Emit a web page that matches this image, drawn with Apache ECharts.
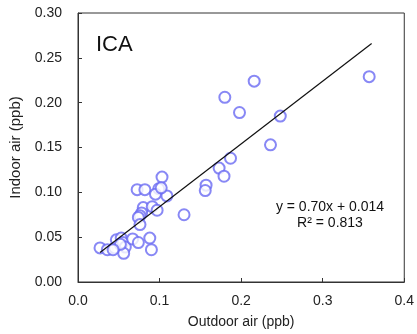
<!DOCTYPE html>
<html><head><meta charset="utf-8">
<script src="https://cdn.jsdelivr.net/npm/echarts@6/dist/echarts.min.js"></script>
<style>html,body{margin:0;padding:0;background:#fff}#c{width:417px;height:334px}</style>
</head><body><div id="c"></div>
<script>
var outdoor = [0.357,0.216,0.180,0.198,0.248,0.236,0.187,0.173,0.179,0.103,0.157,0.156,0.0725,0.082,0.099,0.095,0.109,0.080,0.091,0.097,0.078,0.076,0.074,0.076,0.130,0.102,
  0.027,0.036,0.045,0.047,0.053,0.055,0.058,0.056,0.052,0.067,0.074,0.088,0.090,0.043];
var indoor = [0.229,0.224,0.206,0.189,0.185,0.153,0.138,0.127,0.118,0.117,0.108,0.102,0.103,0.103,0.104,0.098,0.096,0.083,0.084,0.080,0.077,0.074,0.072,0.064,0.075,0.105,
  0.038,0.036,0.038,0.047,0.049,0.044,0.039,0.032,0.042,0.048,0.044,0.049,0.036,0.036];
var fitSlope = 0.70, fitIntercept = 0.014;
var fitRange = [0.027, 0.36];
var xTicks = [0.0, 0.1, 0.2, 0.3, 0.4];
var yTicks = [0.00, 0.05, 0.10, 0.15, 0.20, 0.25, 0.30];
var panelLabel = 'ICA';
var eqText = 'y = 0.70x + 0.014';
var r2Text = 'R\u00b2 = 0.813';

var pts = outdoor.map(function(x,i){return [x, indoor[i]];});
var fitPts = fitRange.map(function(x){return [x, fitSlope*x+fitIntercept];});
var font = 'Liberation Sans, Arial, sans-serif';
var chart = echarts.init(document.getElementById('c'));
chart.setOption({
  animation:false,
  grid:{left:78,right:8,top:13,bottom:46,show:true,borderColor:'#333',borderWidth:1},
  xAxis:{type:'value',min:0,max:0.4,interval:0.1,
    name:'Outdoor air (ppb)',nameLocation:'middle',nameGap:33,
    nameTextStyle:{color:'#222',fontSize:14,fontFamily:font},
    axisLine:{show:true,lineStyle:{color:'#333'}},
    axisTick:{show:true,inside:true,length:4,lineStyle:{color:'#333'}},
    splitLine:{show:false},
    axisLabel:{color:'#222',fontSize:14,fontFamily:font,margin:12,
      formatter:function(v){return v.toFixed(1);}}},
  yAxis:{type:'value',min:0,max:0.3,interval:0.05,
    name:'Indoor air (ppb)',nameLocation:'middle',nameGap:48,nameRotate:90,
    nameTextStyle:{color:'#222',fontSize:15,fontFamily:font},
    axisLine:{show:true,lineStyle:{color:'#333'}},
    axisTick:{show:true,inside:true,length:4,lineStyle:{color:'#333'}},
    splitLine:{show:false},
    axisLabel:{color:'#222',fontSize:14,fontFamily:font,margin:16,
      formatter:function(v){return v.toFixed(2);}}},
  graphic:[
    {type:'text',left:96,top:34,style:{text:panelLabel,font:'22px '+font,fill:'#111'}},
    {type:'text',x:330,y:215,style:{text:eqText+'\n'+r2Text,font:'14px '+font,fill:'#111',align:'center',verticalAlign:'middle',lineHeight:16}}
  ],
  series:[
    {type:'scatter',data:pts,symbol:'emptyCircle',symbolSize:11,
      itemStyle:{color:'#6a6af2',borderColor:'#6a6af2',borderWidth:1},z:3},
    {type:'line',data:fitPts,symbol:'none',lineStyle:{color:'#111',width:1.2},z:4}
  ]
});
</script></body></html>
